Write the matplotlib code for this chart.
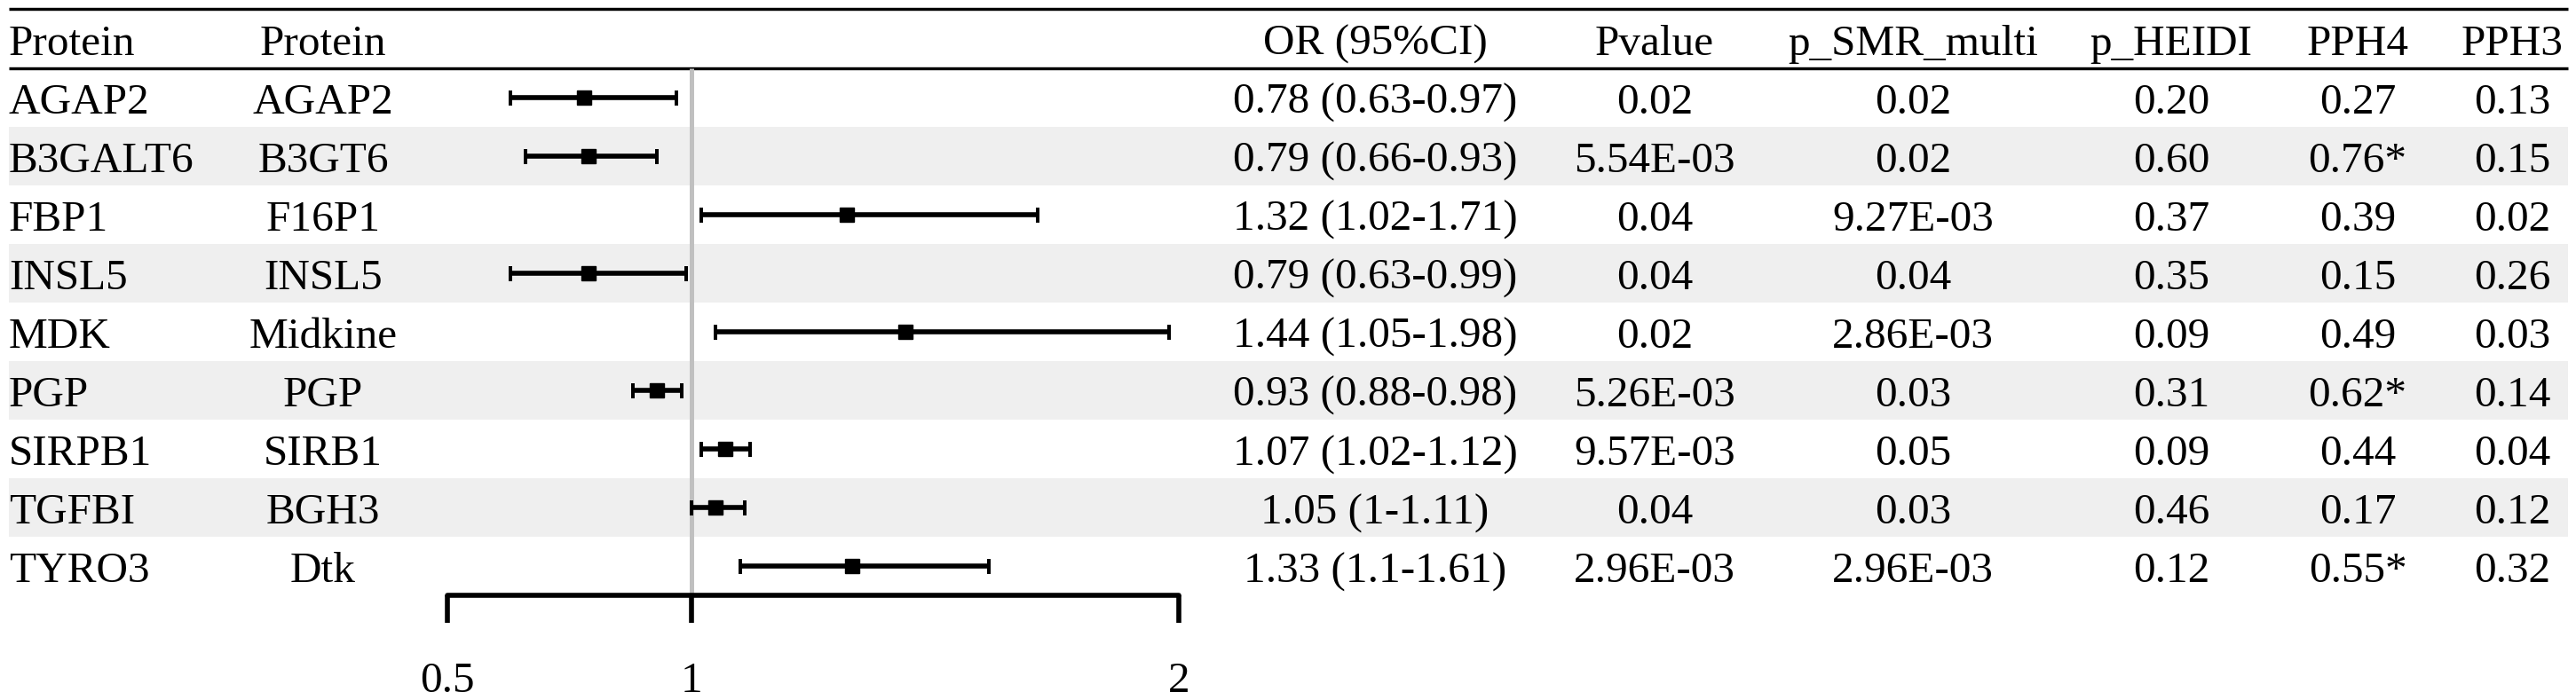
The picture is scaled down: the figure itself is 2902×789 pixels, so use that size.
import matplotlib
matplotlib.use('Agg')
import matplotlib.pyplot as plt
import numpy as np

plt.rcParams['font.family'] = ['Liberation Serif', 'DejaVu Serif']

# table data
protein = ['AGAP2', 'B3GALT6', 'FBP1', 'INSL5', 'MDK', 'PGP', 'SIRPB1', 'TGFBI', 'TYRO3']
protein2 = ['AGAP2', 'B3GT6', 'F16P1', 'INSL5', 'Midkine', 'PGP', 'SIRB1', 'BGH3', 'Dtk']
or_val = np.array([0.78, 0.79, 1.32, 0.79, 1.44, 0.93, 1.07, 1.05, 1.33])
or_lo = np.array([0.63, 0.66, 1.02, 0.63, 1.05, 0.88, 1.02, 1.00, 1.10])
or_hi = np.array([0.97, 0.93, 1.71, 0.99, 1.98, 0.98, 1.12, 1.11, 1.61])
pvalue = ['0.02', '5.54E-03', '0.04', '0.04', '0.02', '5.26E-03', '9.57E-03', '0.04', '2.96E-03']
p_smr = ['0.02', '0.02', '9.27E-03', '0.04', '2.86E-03', '0.03', '0.05', '0.03', '2.96E-03']
p_heidi = ['0.20', '0.60', '0.37', '0.35', '0.09', '0.31', '0.09', '0.46', '0.12']
pph4 = ['0.27', '0.76*', '0.39', '0.15', '0.49', '0.62*', '0.44', '0.17', '0.55*']
pph3 = ['0.13', '0.15', '0.02', '0.26', '0.03', '0.14', '0.04', '0.12', '0.32']
headers = ['Protein', 'Protein', 'OR (95%CI)', 'Pvalue', 'p_SMR_multi', 'p_HEIDI', 'PPH4', 'PPH3']
xticks = [0.5, 1, 2]

or_txt = ['%g (%g-%g)' % (a, b, c) for a, b, c in zip(or_val, or_lo, or_hi)]
n = len(protein)
rows = np.arange(n)

W, H, DPI = 2902, 789, 100
fs = 35.5
px = 72.0 / DPI  # points per pixel

# rows in data units: row i spans [i, i+1]; map pixel layout to that
top_px, row_px = 76.5, 66.1
ylim = ((H - top_px) / row_px, -top_px / row_px)

fig = plt.figure(figsize=(W / DPI, H / DPI), dpi=DPI)
fig.patch.set_facecolor('white')

bg = fig.add_axes([0, 0, 1, 1])
bg.set_xlim(0, W)
bg.set_ylim(*ylim)
bg.axis('off')

x0, x1 = 10, 2893
# shaded rows
shade = rows[1::2]
bg.barh(shade, x1 - x0, left=x0, height=1, align='edge', color='#efefef', zorder=0)
# header rules
bg.hlines([(10 - top_px) / row_px, 0], x0, x1, color='black', lw=3.4 * px, zorder=3)

# columns
col_x = [10, 364, 1549, 1864, 2155, 2446, 2656, 2830]
col_ha = ['left', 'center', 'center', 'center', 'center', 'center', 'center', 'center']
cols = [protein, protein2, or_txt, pvalue, p_smr, p_heidi, pph4, pph3]
base_off = 18.0 / row_px
hdr_y = (62 - top_px) / row_px
for cx, ha, head, vals in zip(col_x, col_ha, headers, cols):
    bg.text(cx, hdr_y, head, ha=ha, va='baseline', fontsize=fs, zorder=4)
    for i, v in enumerate(vals):
        bg.text(cx, i + 0.5 + base_off, v, ha=ha, va='baseline', fontsize=fs, zorder=4)

# forest plot
fl, fr = 504, 1328
ax = fig.add_axes([fl / W, 0, (fr - fl) / W, 1])
ax.patch.set_visible(False)
ax.set_xlim(0.5, 2)
ax.set_ylim(*ylim)
ax.vlines(1, 0, n, color='#c0c0c0', lw=5 * px, zorder=1)
ax.errorbar(or_val, rows + 0.5, xerr=[or_val - or_lo, or_hi - or_val], fmt='s',
            color='black', ms=16 * px, elinewidth=5.6 * px, capsize=8.5 * px,
            capthick=4 * px, zorder=3)
for s in ['top', 'left', 'right']:
    ax.spines[s].set_visible(False)
ax.spines['bottom'].set_position(('data', n))
ax.spines['bottom'].set_linewidth(5.6 * px)
ax.spines['bottom'].set_capstyle('round')
ax.set_yticks([])
ax.set_xticks(xticks)
ax.set_xticklabels(['%g' % t for t in xticks])
ax.tick_params(axis='x', direction='out', length=31 * px, width=5.6 * px,
               pad=44 * px, labelsize=fs)

plt.savefig('out.png', dpi=DPI, facecolor='white')
